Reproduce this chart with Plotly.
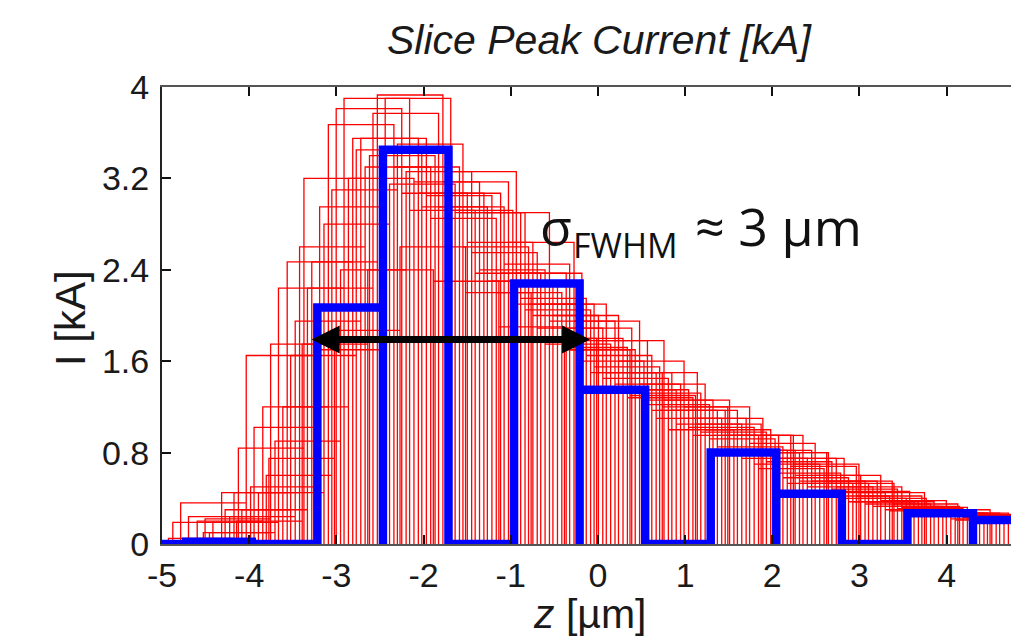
import plotly.graph_objects as go

# ---------------- data ----------------
bin_width = 0.752
x_min, x_max = -5.0, 4.83
y_max = 4.0

x_tick_vals = [-5, -4, -3, -2, -1, 0, 1, 2, 3, 4]
y_tick_vals = [0, 0.8, 1.6, 2.4, 3.2, 4.0]
y_tick_text = ["0", "0.8", "1.6", "2.4", "3.2", "4"]

# blue (reference) histogram
blue_centers = [-5.098, -4.346, -3.594, -2.842, -2.090, -1.338, -0.586,
                0.166, 0.918, 1.670, 2.422, 3.174, 3.926, 4.678]
blue_heights = [0.0, 0.02, 0.0, 2.07, 3.45, 0.0, 2.28,
                1.35, 0.0, 0.80, 0.44, 0.0, 0.27, 0.21]

# red shots: centre of first bin of each shot, then bin heights
red_first_centers = [-4.60, -4.55, -4.50, -4.46, -4.41, -4.36, -4.32, -4.27, -4.22,
                     -4.18, -4.13, -4.08, -4.04, -3.99, -3.94, -3.90, -4.52, -4.15]
shot_01 = [0.00, 0.24, 1.95, 3.55, 3.05, 2.30, 1.80, 1.35, 1.02, 0.70, 0.45, 0.30, 0.22, 0.17]
shot_02 = [0.05, 0.45, 2.60, 3.30, 2.85, 2.20, 1.72, 1.28, 0.95, 0.66, 0.42, 0.29, 0.21, 0.16]
shot_03 = [0.19, 0.84, 3.20, 3.40, 3.07, 2.37, 1.89, 1.50, 1.10, 0.80, 0.53, 0.33, 0.25, 0.18]
shot_04 = [0.00, 0.30, 2.24, 3.77, 2.95, 2.45, 1.70, 1.32, 0.98, 0.72, 0.48, 0.31, 0.23, 0.17]
shot_05 = [0.36, 1.65, 2.47, 3.93, 3.17, 2.64, 1.95, 1.40, 1.00, 0.75, 0.50, 0.32, 0.24, 0.18]
shot_06 = [0.00, 0.50, 1.70, 3.45, 2.92, 2.10, 1.60, 1.22, 0.92, 0.62, 0.40, 0.28, 0.21, 0.15]
shot_07 = [0.24, 1.02, 2.95, 3.90, 3.26, 2.37, 1.78, 1.26, 0.95, 0.75, 0.46, 0.30, 0.25, 0.17]
shot_08 = [0.00, 0.45, 2.80, 3.15, 2.90, 2.15, 1.65, 1.17, 0.85, 0.58, 0.37, 0.27, 0.20, 0.15]
shot_09 = [0.20, 1.20, 3.67, 3.30, 2.90, 2.05, 1.50, 1.10, 0.82, 0.53, 0.37, 0.27, 0.21, 0.16]
shot_10 = [0.00, 0.60, 3.10, 3.50, 2.60, 2.10, 1.55, 1.17, 0.95, 0.68, 0.42, 0.27, 0.22, 0.17]
shot_11 = [0.22, 1.75, 3.81, 3.07, 2.64, 2.00, 1.78, 1.26, 0.82, 0.60, 0.40, 0.25, 0.19, 0.14]
shot_12 = [0.10, 0.90, 2.40, 3.26, 2.55, 1.89, 1.45, 1.00, 0.80, 0.55, 0.35, 0.25, 0.20, 0.15]
shot_13 = [0.19, 2.24, 3.90, 2.92, 2.37, 2.10, 1.50, 1.17, 0.95, 0.53, 0.37, 0.27, 0.21, 0.16]
shot_14 = [0.00, 1.20, 3.20, 3.17, 2.40, 1.75, 1.35, 1.05, 0.75, 0.50, 0.33, 0.25, 0.19, 0.14]
shot_15 = [0.45, 2.47, 3.55, 3.07, 2.90, 1.95, 1.40, 1.10, 0.82, 0.55, 0.33, 0.27, 0.20, 0.15]
shot_16 = [0.30, 1.65, 3.45, 2.95, 2.30, 2.00, 1.60, 1.20, 0.88, 0.60, 0.38, 0.25, 0.19, 0.14]
shot_17 = [0.00, 0.20, 1.75, 2.40, 2.30, 1.90, 1.70, 1.30, 1.05, 0.80, 0.55, 0.35, 0.26, 0.20]
shot_18 = [0.10, 0.75, 1.87, 2.60, 2.20, 1.80, 1.50, 1.20, 0.95, 0.70, 0.45, 0.30, 0.23, 0.17]
red_shots = [shot_01, shot_02, shot_03, shot_04, shot_05, shot_06, shot_07, shot_08, shot_09,
             shot_10, shot_11, shot_12, shot_13, shot_14, shot_15, shot_16, shot_17, shot_18]

# FWHM arrow
fwhm_left, fwhm_right, fwhm_level = -3.30, -0.09, 1.79

title_text = "Slice Peak Current [kA]"
x_title = "<i>z</i> [µm]"
y_title = "I [kA]"
fwhm_symbol = "σ"
fwhm_subscript = "FWHM"
fwhm_value = "≈ 3 µm"


def outline(centers, heights, lo):
    """Step outline of a bar histogram (each bar drawn down to the baseline)."""
    xs, ys = [], []
    for c, h in zip(centers, heights):
        left = max(c - bin_width / 2, lo)
        right = c + bin_width / 2
        xs += [left, left, right, right]
        ys += [0, h, h, 0]
    return xs, ys


# ---------------- figure ----------------
fig = go.Figure()

for first_c, heights in zip(red_first_centers, red_shots):
    centers = [first_c + bin_width * j for j in range(len(heights))]
    rx, ry = outline(centers, heights, x_min)
    fig.add_trace(go.Scatter(
        x=rx, y=ry, mode="lines",
        line=dict(color="#ff0000", width=1.3),
        showlegend=False, hoverinfo="skip",
    ))

bx, by = outline(blue_centers, blue_heights, x_min)
fig.add_trace(go.Scatter(
    x=bx, y=by, mode="lines", cliponaxis=False,
    line=dict(color="#0000ff", width=8.5),
    showlegend=False, hoverinfo="skip",
))

axis_font = dict(family="Liberation Sans, Arial, sans-serif", size=34, color="#1a1a1a")

# the page body adds an 8px margin, so the figure is 8px smaller than the window
fig.update_layout(
    width=1011, height=630,
    margin=dict(l=154, r=0, t=79, b=94, autoexpand=False),
    paper_bgcolor="white", plot_bgcolor="white",
    showlegend=False,
    xaxis=dict(
        range=[x_min, x_max], tickvals=x_tick_vals, ticktext=[str(v) for v in x_tick_vals],
        ticks="inside", ticklen=9, tickwidth=1.5, tickcolor="#111",
        showline=True, linecolor="#555", linewidth=1.5, mirror="ticks",
        showgrid=False, zeroline=False, tickfont=axis_font, ticklabelstandoff=0,
        automargin=False,
    ),
    yaxis=dict(
        range=[0, y_max], tickvals=y_tick_vals, ticktext=y_tick_text,
        ticks="inside", ticklen=9, tickwidth=1.5, tickcolor="#111",
        showline=True, linecolor="#222", linewidth=2,
        showgrid=False, zeroline=False, tickfont=axis_font, ticklabelstandoff=4,
        automargin=False,
    ),
)

fig.add_annotation(
    x=fwhm_right, y=fwhm_level, ax=fwhm_left, ay=fwhm_level,
    xref="x", yref="y", axref="x", ayref="y", text="",
    showarrow=True, arrowside="end+start",
    arrowhead=2, startarrowhead=2, arrowsize=0.8, startarrowsize=0.8,
    arrowwidth=7, arrowcolor="black",
)

label_font = "Open Sans, Noto Sans, sans-serif"
fig.add_annotation(
    x=-0.688, y=2.79, xref="x", yref="y", xanchor="left", yanchor="middle",
    text=fwhm_symbol, showarrow=False,
    font=dict(family=label_font, size=52, color="#111"),
)
fig.add_annotation(
    x=-0.31, y=2.62, xref="x", yref="y", xanchor="left", yanchor="middle",
    text=fwhm_subscript, showarrow=False,
    font=dict(family=label_font, size=34, color="#111"),
)
fig.add_annotation(
    x=1.09, y=2.79, xref="x", yref="y", xanchor="left", yanchor="middle",
    text=fwhm_value, showarrow=False,
    font=dict(family=label_font, size=52, color="#111"),
)

fig.add_annotation(
    x=0.51, y=1.102, xref="paper", yref="paper", xanchor="center", yanchor="middle",
    text="<i>" + title_text + "</i>", showarrow=False,
    font=dict(family="Liberation Sans, Arial, sans-serif", size=41, color="#1a1a1a"),
)
fig.add_annotation(
    x=0.499, y=-0.153, xref="paper", yref="paper", xanchor="center", yanchor="middle",
    text=x_title, showarrow=False,
    font=dict(family="Liberation Sans, Arial, sans-serif", size=41, color="#1a1a1a"),
)
fig.add_annotation(
    x=-0.107, y=0.495, xref="paper", yref="paper", xanchor="center", yanchor="middle",
    text=y_title, showarrow=False, textangle=-90,
    font=dict(family="Liberation Sans, Arial, sans-serif", size=42, color="#1a1a1a"),
)

fig.write_html("out.html")
